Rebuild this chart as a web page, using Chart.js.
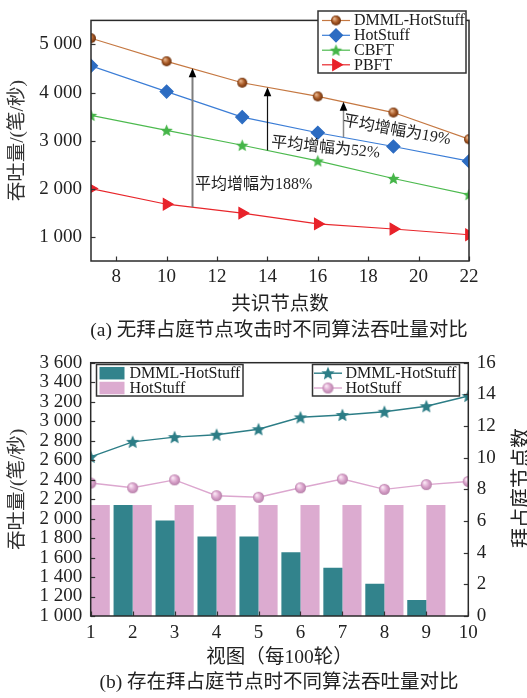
<!DOCTYPE html>
<html>
<head>
<meta charset="utf-8">
<script src="https://cdn.jsdelivr.net/npm/chart.js@4.4.0/dist/chart.umd.min.js"></script>
<style>
  html, body { margin: 0; padding: 0; background: #fff; overflow: hidden; width: 527px; height: 698px; }
  #wrap { position: relative; width: 527px; height: 698px; }
  canvas { position: absolute; left: 0; }
  .cap { position: absolute; left: 79px; width: 400px; height: 28px; line-height: 28px; text-align: center;
         font-family: "Liberation Serif", "Noto Sans CJK SC", serif; font-size: 19.5px; color: #222; white-space: nowrap; }
  .rtitle { position: absolute; left: 461px; top: 476px; width: 120px; height: 24px; line-height: 24px; text-align: center;
            font-family: "Liberation Serif", "Noto Sans CJK SC", serif; font-size: 20px; color: #222; white-space: nowrap;
            transform: rotate(-90deg); }
</style>
</head>
<body>
<div id="wrap">
  <canvas id="c1" width="527" height="318" style="top:0"></canvas>
  <div class="cap" style="top:316px">(a) 无拜占庭节点攻击时不同算法吞吐量对比</div>
  <canvas id="c2" width="527" height="330" style="top:340px"></canvas>
  <div class="rtitle">拜占庭节点数</div>
  <div class="cap" style="top:668px">(b) 存在拜占庭节点时不同算法吞吐量对比</div>
</div>
<script>
// ---- (a) throughput vs. number of consensus nodes ----
const nodeCounts   = [7, 10, 13, 16, 19, 22];
const tpDmml       = [5130, 4650, 4205, 3920, 3585, 3030];
const tpHotStuff   = [4555, 4020, 3490, 3165, 2880, 2575];
const tpCbft       = [3525, 3215, 2905, 2580, 2215, 1880];
const tpPbft       = [2005, 1680, 1495, 1270, 1165, 1045];
const nodeTicks    = [8, 10, 12, 14, 16, 18, 20, 22];
const tpTicksA     = [1000, 2000, 3000, 4000, 5000];

// average-gain arrows: node count, start throughput, end throughput, caption
const gainAt       = [11, 14, 17];
const gainFrom     = [1620, 2800, 3070];
const gainTo       = [4505, 4110, 3810];
const gainText     = ['平均增幅为188%', '平均增幅为52%', '平均增幅为19%'];

// ---- (b) throughput and byzantine node count per view ----
const views        = [1, 2, 3, 4, 5, 6, 7, 8, 9, 10];
const barViews     = [1, 2, 3, 4, 5, 6, 7, 8, 9];
const barDmml      = [null, 2140, 1980, 1815, 1815, 1655, 1495, 1330, 1165];
const barHotStuff  = [2140, 2140, 2140, 2140, 2140, 2140, 2140, 2140, 2140];
const byzDmml      = [10.05, 11.0, 11.3, 11.45, 11.8, 12.55, 12.7, 12.9, 13.25, 13.9];
const byzHotStuff  = [8.4, 8.1, 8.6, 7.6, 7.5, 8.1, 8.65, 8.0, 8.3, 8.5];
const tpTicksB     = [1000, 1200, 1400, 1600, 1800, 2000, 2200, 2400, 2600, 2800, 3000, 3200, 3400, 3600];
const byzTicks     = [0, 2, 4, 6, 8, 10, 12, 14, 16];

const FONT = '"Liberation Serif", "Noto Sans CJK SC", serif';
Chart.defaults.font.family = FONT;
Chart.defaults.color = '#222';
Chart.defaults.animation = false;

const fmtThousands = v => String(v).replace(/\B(?=(\d{3})+(?!\d))/g, ' ');
const pts = (xs, ys) => xs.map((x, i) => ({ x, y: ys[i] }));
const fixTicks = arr => s => { s.ticks = arr.map(v => ({ value: v })); };

// shaded ball marker
function ball(r, light, base, dark) {
  const s = Math.ceil(r * 2 + 2), c = document.createElement('canvas');
  c.width = c.height = s;
  const g = c.getContext('2d'), m = s / 2;
  const gr = g.createRadialGradient(m - r * 0.35, m - r * 0.4, r * 0.1, m, m, r);
  gr.addColorStop(0, light); gr.addColorStop(0.55, base); gr.addColorStop(1, dark);
  g.fillStyle = gr; g.beginPath(); g.arc(m, m, r, 0, Math.PI * 2); g.fill();
  return c;
}
// filled five-pointed star marker
function star(r, fill) {
  const s = Math.ceil(r * 2 + 2), c = document.createElement('canvas');
  c.width = c.height = s;
  const g = c.getContext('2d'), m = s / 2;
  g.beginPath();
  for (let i = 0; i < 10; i++) {
    const rr = i % 2 ? r * 0.45 : r, a = -Math.PI / 2 + i * Math.PI / 5;
    g.lineTo(m + rr * Math.cos(a), m + 0.5 + rr * Math.sin(a));
  }
  g.closePath(); g.fillStyle = fill; g.fill();
  return c;
}

// plot frame plus inward tick marks
const framePlugin = {
  id: 'frame',
  afterDatasetsDraw(chart, args, opts) {
    const { ctx, chartArea: a } = chart;
    ctx.save();
    ctx.strokeStyle = '#333'; ctx.lineWidth = 1.2;
    const L = 4.5;
    (opts.axes || []).forEach(id => {
      const s = chart.scales[id];
      s.ticks.forEach(t => {
        const p = Math.round(s.getPixelForValue(t.value)) + 0.5;
        ctx.beginPath();
        if (s.position === 'bottom') { ctx.moveTo(p, a.bottom); ctx.lineTo(p, a.bottom - L); }
        else if (s.position === 'left') { ctx.moveTo(a.left, p); ctx.lineTo(a.left + L, p); }
        else { ctx.moveTo(a.right, p); ctx.lineTo(a.right - L, p); }
        ctx.stroke();
      });
    });
    ctx.lineWidth = 1.5; ctx.strokeStyle = '#2a2a2a';
    ctx.strokeRect(a.left, a.top, a.right - a.left, a.bottom - a.top);
    ctx.restore();
  }
};

// framed legend boxes
const boxLegendPlugin = {
  id: 'boxLegend',
  afterDraw(chart, args, opts) {
    const ctx = chart.ctx;
    (opts.boxes || []).forEach(b => {
      ctx.save();
      ctx.fillStyle = '#fff';
      ctx.fillRect(b.x1, b.y1, b.x2 - b.x1, b.y2 - b.y1);
      ctx.strokeStyle = '#333'; ctx.lineWidth = 1.5;
      ctx.strokeRect(b.x1, b.y1, b.x2 - b.x1, b.y2 - b.y1);
      b.items.forEach((di, k) => {
        const ds = chart.data.datasets[di];
        const y = b.rowY[k];
        if (b.kind === 'rect') {
          ctx.fillStyle = ds.backgroundColor;
          ctx.fillRect(b.sx1, y - b.sh / 2, b.sx2 - b.sx1, b.sh);
        } else {
          ctx.strokeStyle = ds.borderColor; ctx.lineWidth = ds.borderWidth;
          ctx.beginPath(); ctx.moveTo(b.sx1, y); ctx.lineTo(b.sx2, y); ctx.stroke();
          ctx.fillStyle = ds.pointBackgroundColor || ds.borderColor;
          ctx.strokeStyle = ds.pointBorderColor || ds.borderColor;
          Chart.helpers.drawPoint(ctx, {
            pointStyle: ds.pointStyle, radius: ds.pointRadius,
            rotation: ds.pointRotation || 0, borderWidth: 1
          }, (b.sx1 + b.sx2) / 2, y);
        }
        ctx.fillStyle = '#1a1a1a';
        ctx.font = b.fontSize + 'px ' + FONT;
        ctx.textAlign = 'left'; ctx.textBaseline = 'middle';
        ctx.fillText(ds.label, b.tx, y + 0.5);
      });
      ctx.restore();
    });
  }
};

// vertical gain arrows with their captions
const gainPlugin = {
  id: 'gain',
  afterDatasetsDraw(chart, args, opts) {
    const { ctx, scales: { x, y } } = chart;
    ctx.save();
    gainAt.forEach((n, i) => {
      const st = opts.styles[i];
      const px = Math.round(x.getPixelForValue(n)) + 0.5;
      const y1 = y.getPixelForValue(gainFrom[i]);
      const y2 = y.getPixelForValue(gainTo[i]);
      ctx.strokeStyle = st.color; ctx.lineWidth = st.width;
      ctx.beginPath(); ctx.moveTo(px, y1); ctx.lineTo(px, y2 + 8); ctx.stroke();
      ctx.fillStyle = '#000';
      ctx.beginPath(); ctx.moveTo(px, y2); ctx.lineTo(px - 3.8, y2 + 9); ctx.lineTo(px + 3.8, y2 + 9); ctx.closePath(); ctx.fill();
      const lb = opts.labels[i];
      ctx.save();
      ctx.translate(x.getPixelForValue(lb.x), y.getPixelForValue(lb.y));
      ctx.rotate(lb.rot * Math.PI / 180);
      ctx.fillStyle = '#222';
      ctx.font = '16px ' + FONT;
      ctx.textAlign = 'left'; ctx.textBaseline = 'middle';
      ctx.fillText(gainText[i], 0, 0);
      ctx.restore();
    });
    ctx.restore();
  }
};

const brownBall = ball(5, '#e8b58c', '#a95a26', '#6a2f0c');
const greenStar = star(6.5, '#45b548');
const tealStar = star(7, '#2c7d86');
const pinkBall = ball(5.5, '#fbe8f5', '#dba5cd', '#b67fa8');

const tickFont = { size: 19 };
const titleFont = { size: 19.5 };

// ---------- chart (a) ----------
new Chart(document.getElementById('c1'), {
  type: 'line',
  data: {
    datasets: [
      { label: 'DMML-HotStuff', data: pts(nodeCounts, tpDmml), borderColor: '#c57842', borderWidth: 1.2,
        pointStyle: brownBall, pointRadius: 5, tension: 0 },
      { label: 'HotStuff', data: pts(nodeCounts, tpHotStuff), borderColor: '#3b7dd6', borderWidth: 1.2,
        pointStyle: 'rectRot', pointRadius: 6.5, pointBackgroundColor: '#2c6cc2', pointBorderColor: '#2c6cc2', tension: 0 },
      { label: 'CBFT', data: pts(nodeCounts, tpCbft), borderColor: '#4dba4f', borderWidth: 1.2,
        pointStyle: greenStar, pointRadius: 6.5, tension: 0 },
      { label: 'PBFT', data: pts(nodeCounts, tpPbft), borderColor: '#e8262b', borderWidth: 1.2,
        pointStyle: 'triangle', pointRotation: 90, pointRadius: 6.5, pointBackgroundColor: '#e8222a', pointBorderColor: '#e8222a', tension: 0 }
    ]
  },
  options: {
    responsive: false,
    animation: false,
    layout: { padding: { left: 0, right: 58, top: 7, bottom: 0 } },
    plugins: {
      legend: { display: false },
      tooltip: { enabled: false },
      frame: { axes: ['x', 'y'] },
      boxLegend: { boxes: [{ kind: 'line', x1: 318, y1: 11, x2: 466, y2: 73, items: [0, 1, 2, 3],
        rowY: [20.5, 35.3, 50.2, 64.8], sx1: 322, sx2: 350, tx: 354, fontSize: 16 }] },
      gain: {
        styles: [{ color: '#7d7d7d', width: 2 }, { color: '#111', width: 1.2 }, { color: '#888', width: 1.5 }],
        labels: [{ x: 11.13, y: 2079, rot: 0 }, { x: 14.15, y: 2955, rot: 5.5 }, { x: 17.0, y: 3405, rot: 10 }]
      }
    },
    scales: {
      x: {
        type: 'linear', min: 7, max: 22,
        afterBuildTicks: fixTicks(nodeTicks),
        afterFit(s) { s.height = 57; },
        grid: { display: false, drawTicks: false }, border: { display: false },
        ticks: { font: tickFont, color: '#222', padding: 4.5, maxRotation: 0, autoSkip: false },
        title: { display: true, text: '共识节点数', font: titleFont, color: '#222', padding: { top: 0, bottom: 1 } }
      },
      y: {
        min: 500, max: 5500,
        afterBuildTicks: fixTicks(tpTicksA),
        afterFit(s) { s.width = 91; },
        grid: { display: false, drawTicks: false }, border: { display: false },
        ticks: { font: tickFont, color: '#222', padding: 9, autoSkip: false, callback: fmtThousands },
        title: { display: true, text: '吞吐量/(笔/秒)', font: titleFont, color: '#333', padding: { top: 6, bottom: 0 } }
      }
    }
  },
  plugins: [framePlugin, gainPlugin, boxLegendPlugin]
});

// ---------- chart (b) ----------
new Chart(document.getElementById('c2'), {
  type: 'bar',
  data: {
    datasets: [
      { type: 'line', label: 'DMML-HotStuff', data: pts(views, byzDmml), yAxisID: 'y1',
        borderColor: '#2c7d86', borderWidth: 1.4, pointStyle: tealStar, pointRadius: 7, tension: 0 },
      { type: 'line', label: 'HotStuff', data: pts(views, byzHotStuff), yAxisID: 'y1',
        borderColor: '#dca7cf', borderWidth: 1.4, pointStyle: pinkBall, pointRadius: 5.5, tension: 0 },
      { label: 'DMML-HotStuff', data: pts(barViews, barDmml), yAxisID: 'y',
        backgroundColor: '#32838c', categoryPercentage: 0.91, barPercentage: 1 },
      { label: 'HotStuff', data: pts(barViews, barHotStuff), yAxisID: 'y',
        backgroundColor: '#dcabd0', categoryPercentage: 0.91, barPercentage: 1 }
    ]
  },
  options: {
    responsive: false,
    animation: false,
    layout: { padding: { left: 0, right: 0, top: 22.7, bottom: 0 } },
    plugins: {
      legend: { display: false },
      tooltip: { enabled: false },
      frame: { axes: ['x', 'y', 'y1'] },
      boxLegend: { boxes: [
        { kind: 'rect', x1: 96.5, y1: 24.5, x2: 243, y2: 56, items: [2, 3], rowY: [33.2, 48], sx1: 99.5, sx2: 124.5, sh: 12.5,
          tx: 129.5, fontSize: 16 },
        { kind: 'line', x1: 312.5, y1: 24.5, x2: 459.5, y2: 56, items: [0, 1], rowY: [33.2, 48], sx1: 314, sx2: 342,
          tx: 345.5, fontSize: 16 }
      ] }
    },
    scales: {
      x: {
        type: 'linear', min: 1, max: 10, offset: false,
        afterBuildTicks: fixTicks(views),
        afterFit(s) { s.height = 54; },
        grid: { display: false, drawTicks: false }, border: { display: false },
        ticks: { font: tickFont, color: '#222', padding: 5.3, maxRotation: 0, autoSkip: false },
        title: { display: true, text: '视图（每100轮）', font: titleFont, color: '#222', padding: { top: 0, bottom: 0.5 } }
      },
      y: {
        position: 'left', min: 1000, max: 3600,
        afterBuildTicks: fixTicks(tpTicksB),
        afterFit(s) { s.width = 90.7; },
        grid: { display: false, drawTicks: false }, border: { display: false },
        ticks: { font: tickFont, color: '#222', padding: 8.4, autoSkip: false, callback: fmtThousands },
        title: { display: true, text: '吞吐量/(笔/秒)', font: titleFont, color: '#333', padding: { top: 6.6, bottom: 0 } }
      },
      y1: {
        position: 'right', min: 0, max: 16,
        afterBuildTicks: fixTicks(byzTicks),
        afterFit(s) { s.width = 58.7; },
        grid: { display: false, drawTicks: false }, border: { display: false },
        ticks: { font: tickFont, color: '#222', padding: 8.4, autoSkip: false }
      }
    }
  },
  plugins: [framePlugin, boxLegendPlugin]
});
</script>
</body>
</html>
